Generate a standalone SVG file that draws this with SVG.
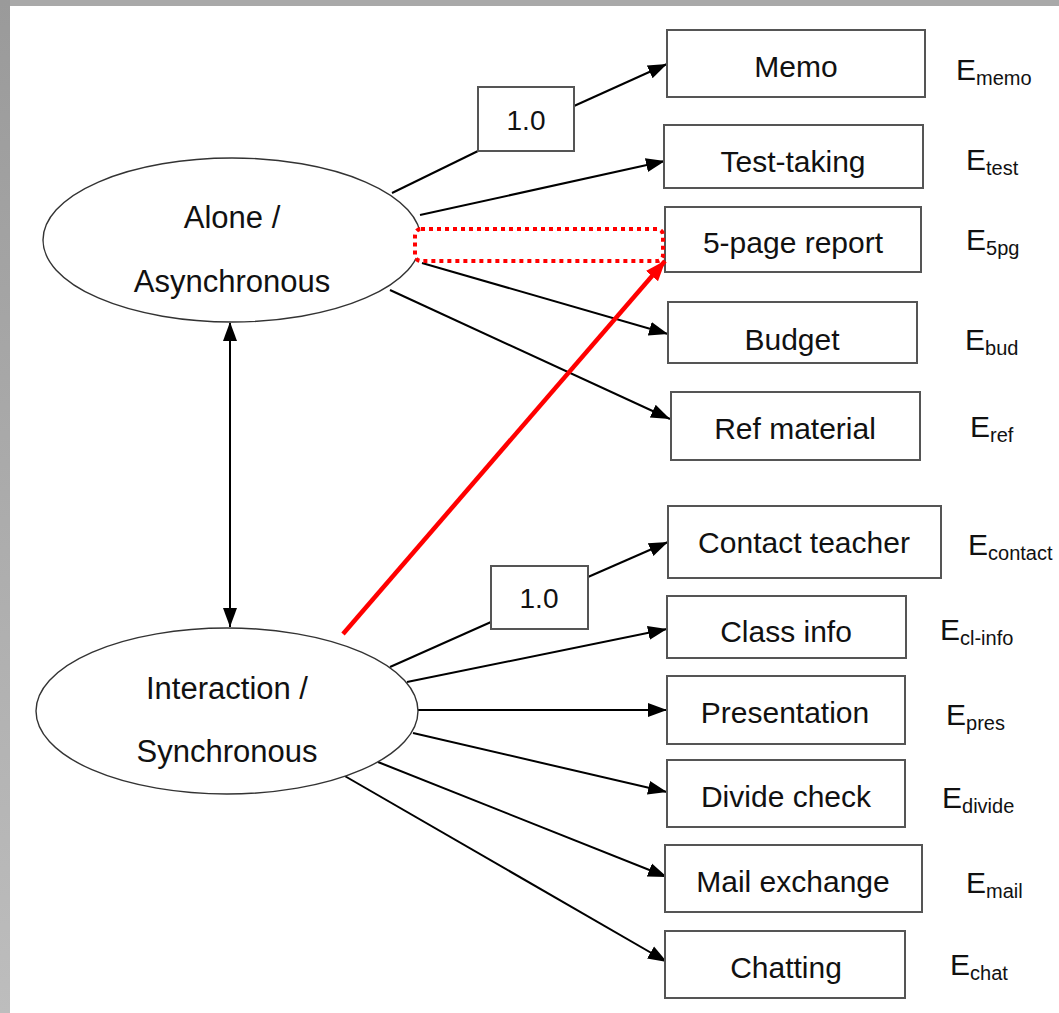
<svg xmlns="http://www.w3.org/2000/svg" width="1059" height="1013" viewBox="0 0 1059 1013">
<defs>
<linearGradient id="lg" x1="0" y1="0" x2="0" y2="1">
<stop offset="0" stop-color="#9a9a9a"/>
<stop offset="1" stop-color="#bdbdbd"/>
</linearGradient>
<marker id="ah" markerUnits="userSpaceOnUse" markerWidth="20" markerHeight="18" refX="19" refY="9" orient="auto">
<path d="M0,2 L19,9 L0,16 z" fill="#000"/>
</marker>
<marker id="ahs" markerUnits="userSpaceOnUse" markerWidth="20" markerHeight="18" refX="1" refY="9" orient="auto">
<path d="M19,2 L0,9 L19,16 z" fill="#000"/>
</marker>
<marker id="ahr" markerUnits="userSpaceOnUse" markerWidth="22" markerHeight="20" refX="20" refY="10" orient="auto">
<path d="M0,2 L21,10 L0,18 z" fill="#ff0000"/>
</marker>
</defs>
<style>
.box{fill:#fff;stroke:#555;stroke-width:2}
.ell{fill:#fff;stroke:#333;stroke-width:1.4}
.t{font-family:"Liberation Sans",Arial,sans-serif;font-size:30px;fill:#111;text-anchor:middle}
.te{font-family:"Liberation Sans",Arial,sans-serif;font-size:31px;fill:#111;text-anchor:middle}
.w{font-family:"Liberation Sans",Arial,sans-serif;font-size:28px;fill:#111;text-anchor:middle}
.e{font-family:"Liberation Sans",Arial,sans-serif;font-size:30px;fill:#111}
.s{font-size:20px}
.c{stroke:#000;stroke-width:2;fill:none}
.ca{stroke:#000;stroke-width:2;fill:none;marker-end:url(#ah)}
</style>
<rect x="0" y="0" width="1059" height="1013" fill="#fff"/>
<rect x="0" y="0" width="1059" height="6" fill="#a9a9a9"/>
<rect x="0" y="0" width="10" height="1013" fill="url(#lg)"/>

<g id="connectors">
<line class="c" x1="392" y1="193" x2="478" y2="151"/>
<line class="ca" x1="574" y1="106" x2="667" y2="64"/>
<line class="ca" x1="420" y1="215" x2="665" y2="161"/>
<line class="ca" x1="422" y1="263" x2="668" y2="334"/>
<line class="ca" x1="390" y1="290" x2="670" y2="419"/>
<line stroke="#000" stroke-width="2" marker-start="url(#ahs)" marker-end="url(#ah)" x1="230" y1="323" x2="230" y2="627"/>
<line class="c" x1="390" y1="667" x2="491" y2="622"/>
<line class="ca" x1="588" y1="577" x2="668" y2="542"/>
<line class="ca" x1="407" y1="682" x2="667" y2="629"/>
<line class="ca" x1="418" y1="710" x2="667" y2="710"/>
<line class="ca" x1="413" y1="733" x2="667" y2="792"/>
<line class="ca" x1="378" y1="762" x2="667" y2="877"/>
<line class="ca" x1="343" y1="775" x2="667" y2="962"/>
</g>

<g id="n-alone"><ellipse class="ell" cx="232" cy="240" rx="189" ry="82"/>
<text class="te" x="232" y="228">Alone /</text><text class="te" x="232" y="292">Asynchronous</text></g>
<g id="n-interaction"><ellipse class="ell" cx="227" cy="711" rx="191" ry="83"/>
<text class="te" x="227" y="699">Interaction /</text><text class="te" x="227" y="762">Synchronous</text></g>

<g id="w1"><rect class="box" x="478" y="87" width="96" height="64"/><text class="w" x="526" y="130">1.0</text></g>
<g id="w2"><rect class="box" x="491" y="566" width="97" height="63"/><text class="w" x="539" y="608">1.0</text></g>

<g id="n-memo"><rect class="box" x="667" y="30" width="258" height="67"/><text class="t" x="796" y="77">Memo</text></g>
<g id="n-test"><rect class="box" x="664" y="125" width="259" height="63"/><text class="t" x="793" y="172">Test-taking</text></g>
<g id="n-5pg"><rect class="box" x="665" y="207" width="256" height="65"/><text class="t" x="793" y="253">5-page report</text></g>
<g id="n-bud"><rect class="box" x="668" y="302" width="249" height="61"/><text class="t" x="792" y="350">Budget</text></g>
<g id="n-ref"><rect class="box" x="671" y="392" width="249" height="68"/><text class="t" x="795" y="439">Ref material</text></g>
<g id="n-contact"><rect class="box" x="668" y="506" width="273" height="72"/><text class="t" x="804" y="553">Contact teacher</text></g>
<g id="n-clinfo"><rect class="box" x="667" y="596" width="239" height="62"/><text class="t" x="786" y="642">Class info</text></g>
<g id="n-pres"><rect class="box" x="667" y="676" width="238" height="68"/><text class="t" x="785" y="723">Presentation</text></g>
<g id="n-divide"><rect class="box" x="667" y="760" width="238" height="67"/><text class="t" x="786" y="807">Divide check</text></g>
<g id="n-mail"><rect class="box" x="665" y="845" width="257" height="67"/><text class="t" x="793" y="892">Mail exchange</text></g>
<g id="n-chat"><rect class="box" x="665" y="931" width="240" height="67"/><text class="t" x="786" y="978">Chatting</text></g>

<g id="highlight">
<rect x="415" y="229" width="248" height="32" rx="6" fill="#fff" stroke="#ff0000" stroke-width="4" stroke-dasharray="4 4"/>
<line stroke="#ff0000" stroke-width="4.5" marker-end="url(#ahr)" x1="343" y1="634" x2="665" y2="261"/>
</g>

<g id="labels">
<text class="e" x="956" y="80">E<tspan class="s" dy="5">memo</tspan></text>
<text class="e" x="966" y="170">E<tspan class="s" dy="5">test</tspan></text>
<text class="e" x="966" y="250">E<tspan class="s" dy="5">5pg</tspan></text>
<text class="e" x="965" y="350">E<tspan class="s" dy="5">bud</tspan></text>
<text class="e" x="970" y="437">E<tspan class="s" dy="5">ref</tspan></text>
<text class="e" x="968" y="555">E<tspan class="s" dy="5">contact</tspan></text>
<text class="e" x="940" y="640">E<tspan class="s" dy="5">cl-info</tspan></text>
<text class="e" x="946" y="725">E<tspan class="s" dy="5">pres</tspan></text>
<text class="e" x="942" y="808">E<tspan class="s" dy="5">divide</tspan></text>
<text class="e" x="966" y="893">E<tspan class="s" dy="5">mail</tspan></text>
<text class="e" x="950" y="975">E<tspan class="s" dy="5">chat</tspan></text>
</g>
</svg>
